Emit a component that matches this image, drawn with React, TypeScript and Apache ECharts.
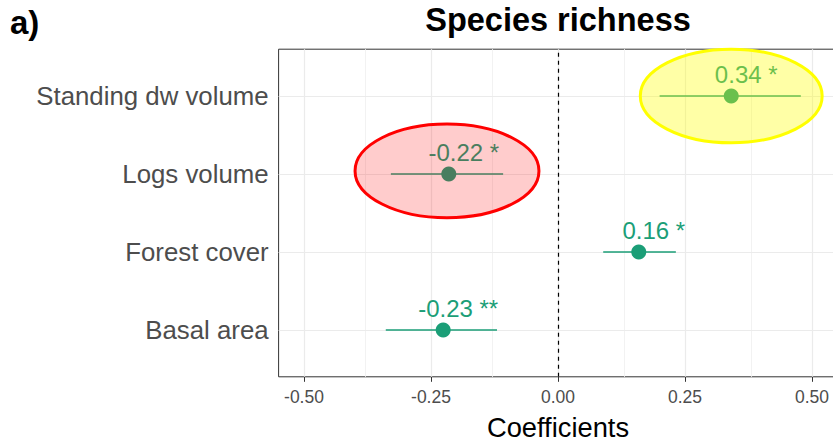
import React, { useEffect, useRef } from "react";
import * as echarts from "echarts";

const categories = ["Basal area", "Forest cover", "Logs volume", "Standing dw volume"];
const estimates = [-0.226, 0.159, -0.215, 0.341];
const lowerCI = [-0.339, 0.089, -0.329, 0.2];
const upperCI = [-0.12, 0.232, -0.108, 0.478];
const pointLabels = ["-0.23 **", "0.16 *", "-0.22 *", "0.34 *"];
const xTicks = [-0.5, -0.25, 0, 0.25, 0.5];
const xMinorTicks = [-0.375, -0.125, 0.125, 0.375];
const yTicks = [1, 2, 3, 4];

// highlight ellipses (data units)
const ellipseX = [0.341, -0.2185];
const ellipseY = [4, 3.04];
const ellipseRx = [0.179, 0.181];
const ellipseRy = [0.6, 0.6];
const ellipseFill = ["rgba(255,255,0,0.35)", "rgba(255,0,0,0.2)"];
const ellipseStroke = ["#ffff00", "#ff0000"];

const COLOR = "#1b9e77";
const FONT = "'Liberation Sans', Arial, sans-serif";

export default function App() {
  const ref = useRef<HTMLDivElement>(null);
  useEffect(() => {
    if (!ref.current) return;
    const chart = echarts.init(ref.current, null, { renderer: "svg" });
    const gridLines: any[] = [];
    xMinorTicks.forEach((v) =>
      gridLines.push({ xAxis: v, lineStyle: { color: "#f2f2f2", width: 1, type: "solid" } })
    );
    xTicks.forEach((v) =>
      gridLines.push({ xAxis: v, lineStyle: { color: "#ebebeb", width: 1.2, type: "solid" } })
    );
    yTicks.forEach((v) =>
      gridLines.push({ yAxis: v, lineStyle: { color: "#ebebeb", width: 1.2, type: "solid" } })
    );
    chart.setOption({
      animation: false,
      grid: {
        left: 278.6,
        right: 2.6,
        top: 49.2,
        bottom: 65.2,
        containLabel: false,
        outerBoundsMode: "none",
        show: true,
        borderColor: "#333333",
        borderWidth: 1,
        backgroundColor: "transparent",
      },
      xAxis: {
        type: "value",
        min: -0.55,
        max: 0.55,
        name: "Coefficients",
        nameLocation: "middle",
        nameGap: 37.5,
        nameTextStyle: { fontSize: 27.3, color: "#000", fontFamily: FONT },
        axisLine: { show: false },
        splitLine: { show: false },
        axisTick: { show: true, length: 5, customValues: xTicks, lineStyle: { color: "#333333" } },
        axisLabel: {
          customValues: xTicks,
          formatter: (v: number) => v.toFixed(2),
          fontSize: 17.5,
          color: "#4d4d4d",
          margin: 11,
          fontFamily: FONT,
        },
      },
      yAxis: {
        type: "value",
        min: 0.4,
        max: 4.6,
        axisLine: { show: false },
        splitLine: { show: false },
        axisTick: { show: true, length: 5, customValues: yTicks, lineStyle: { color: "#333333" } },
        axisLabel: {
          customValues: yTicks,
          formatter: (v: number) => categories[Math.round(v) - 1] ?? "",
          fontSize: 25.8,
          color: "#4d4d4d",
          margin: 10,
          fontFamily: FONT,
        },
      },
      graphic: [
        {
          type: "text",
          x: 558,
          y: 20,
          style: {
            text: "Species richness",
            fontSize: 32.5,
            fontWeight: "bold",
            fontFamily: FONT,
            fill: "#000",
            align: "center",
            verticalAlign: "middle",
          },
        },
        {
          type: "text",
          x: 10,
          y: 22,
          style: {
            text: "a)",
            fontSize: 33,
            fontWeight: "bold",
            fontFamily: FONT,
            fill: "#000",
            align: "left",
            verticalAlign: "middle",
          },
        },
      ],
      series: [
        {
          type: "line",
          data: [],
          z: 1,
          markLine: {
            z: 1,
            silent: true,
            symbol: ["none", "none"],
            label: { show: false },
            data: gridLines,
          },
        },
        {
          type: "line",
          data: [],
          z: 2,
          markLine: {
            z: 2,
            silent: true,
            symbol: ["none", "none"],
            label: { show: false },
            data: [{ xAxis: 0, lineStyle: { color: "#000", width: 1.2, type: [4, 4] } }],
          },
        },
        {
          type: "custom",
          z: 3,
          data: categories.map((_, i) => [lowerCI[i], upperCI[i], i + 1]),
          renderItem: (params: any, api: any) => {
            const a = api.coord([api.value(0), api.value(2)]);
            const b = api.coord([api.value(1), api.value(2)]);
            return {
              type: "line",
              shape: { x1: a[0], y1: a[1], x2: b[0], y2: b[1] },
              style: { stroke: COLOR, lineWidth: 1.6, fill: null },
            };
          },
        },
        {
          type: "scatter",
          z: 4,
          symbol: "circle",
          symbolSize: 15,
          itemStyle: { color: COLOR, opacity: 1 },
          data: categories.map((_, i) => [estimates[i], i + 1]),
          label: {
            show: true,
            position: "inside",
            offset: [15, -22],
            formatter: (p: any) => pointLabels[p.dataIndex],
            color: COLOR,
            fontSize: 24,
            fontFamily: FONT,
          },
        },
        {
          type: "custom",
          z: 10,
          data: ellipseX.map((x, i) => [x, ellipseY[i], ellipseRx[i], ellipseRy[i]]),
          renderItem: (params: any, api: any) => {
            const i = params.dataIndex;
            const c = api.coord([api.value(0), api.value(1)]);
            const s = api.size([api.value(2), api.value(3)]);
            return {
              type: "ellipse",
              shape: { cx: c[0], cy: c[1], rx: s[0], ry: s[1] },
              style: { fill: ellipseFill[i], stroke: ellipseStroke[i], lineWidth: 3 },
            };
          },
        },
      ],
    });
    return () => chart.dispose();
  }, []);
  return (
    <div
      style={{
        position: "fixed",
        left: 0,
        top: 0,
        width: 833,
        height: 442,
        overflow: "hidden",
        background: "#fff",
      }}
    >
      <div ref={ref} style={{ width: 840, height: 442 }} />
    </div>
  );
}
